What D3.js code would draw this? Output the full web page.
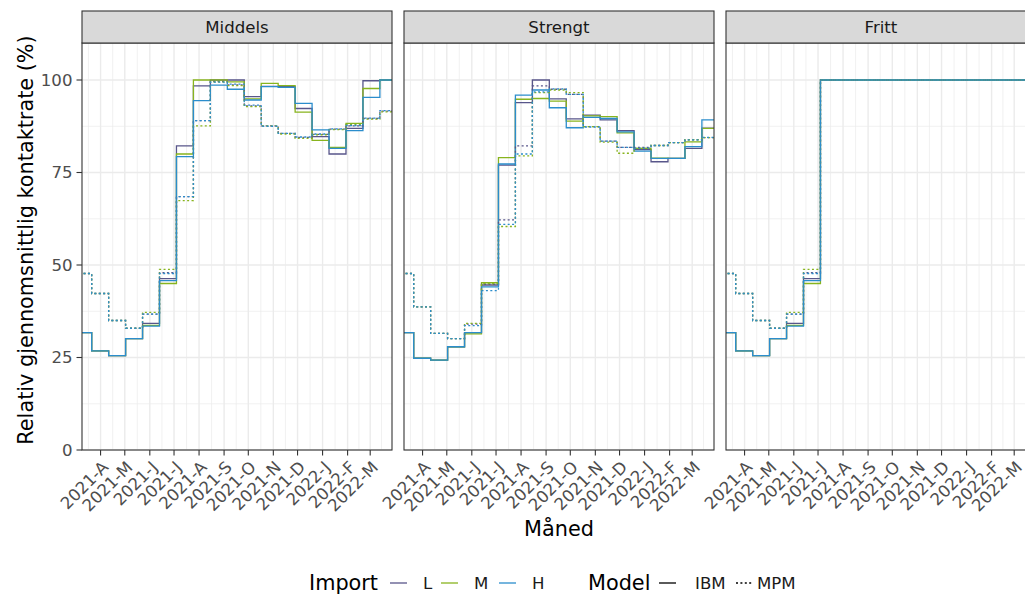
<!DOCTYPE html>
<html>
<head>
<meta charset="utf-8">
<script src="https://cdn.jsdelivr.net/npm/d3@7"></script>
<style>
  body { margin: 0; background: #fff; }
  text { font-family: "DejaVu Sans", sans-serif; }
</style>
</head>
<body>
<div class="chart"></div>
<script>
// facetter, grupper
const panels = ["Middels", "Strengt", "Fritt"]
const imports = ["L", "M", "H"]
const models = ["IBM", "MPM"]

// start of each 3-week period (last date = end of last period)
const periodStart = [
  "2021-02-28", "2021-03-21", "2021-04-11", "2021-05-02", "2021-05-23",
  "2021-06-13", "2021-07-04", "2021-07-25", "2021-08-15", "2021-09-05",
  "2021-09-26", "2021-10-17", "2021-11-07", "2021-11-28", "2021-12-19",
  "2022-01-09", "2022-01-30", "2022-02-20", "2022-03-13", "2022-04-03",
]

// month ticks
const tickDates = [
  "2021-04-01", "2021-05-01", "2021-06-01", "2021-07-01", "2021-08-01",
  "2021-09-01", "2021-10-01", "2021-11-01", "2021-12-01", "2022-01-01",
  "2022-02-01", "2022-03-01",
]
const tickLabels = [
  "2021-A", "2021-M", "2021-J", "2021-J", "2021-A", "2021-S",
  "2021-O", "2021-N", "2021-D", "2022-J", "2022-F", "2022-M",
]
const yTicks = [0, 25, 50, 75, 100]

// Middels
const middelsIbmL = [31.7, 26.8, 25.5, 30.1, 34.2, 46.3, 82.2, 98.4, 100, 100, 95.5, 98.3, 98.2, 92.3, 84.7, 80.0, 86.9, 99.8, 100]
const middelsIbmM = [31.7, 26.8, 25.5, 30.1, 33.7, 45.0, 80.0, 100, 100, 99.5, 94.9, 99.1, 98.5, 91.3, 83.7, 81.8, 88.3, 97.7, 100]
const middelsIbmH = [31.7, 26.8, 25.5, 30.1, 33.5, 45.8, 79.3, 94.4, 98.6, 97.5, 94.6, 98.2, 98.0, 93.7, 86.5, 81.5, 86.3, 95.3, 100]
const middelsMpmL = [47.7, 42.3, 35.0, 32.9, 36.7, 47.9, 68.5, 89.0, 99.6, 98.7, 93.0, 87.6, 85.6, 84.5, 85.3, 86.7, 87.6, 89.6, 91.6]
const middelsMpmM = [47.7, 42.3, 35.0, 32.9, 37.2, 48.8, 67.4, 87.6, 99.5, 98.5, 92.8, 87.6, 85.4, 84.2, 85.2, 86.6, 87.9, 89.4, 91.4]
const middelsMpmH = [47.7, 42.3, 35.0, 32.9, 36.7, 47.7, 68.5, 89.0, 99.4, 98.9, 93.2, 87.5, 85.6, 84.6, 85.4, 86.8, 87.7, 89.7, 91.7]

// Strengt
const strengtIbmL = [31.7, 24.8, 24.3, 27.9, 31.7, 44.6, 77.0, 93.9, 100, 94.9, 89.5, 90.5, 89.2, 86.3, 81.2, 77.9, 78.8, 81.5, 87.0]
const strengtIbmM = [31.7, 24.8, 24.3, 27.9, 31.4, 45.2, 79.0, 94.8, 95.0, 94.3, 88.9, 90.3, 90.1, 85.7, 81.5, 78.9, 78.8, 83.3, 86.9]
const strengtIbmH = [31.7, 24.8, 24.3, 27.9, 31.7, 44.1, 77.3, 95.9, 97.3, 92.5, 87.1, 89.9, 89.6, 86.0, 80.8, 78.8, 78.8, 82.0, 89.2]
const strengtMpmL = [47.7, 38.7, 31.5, 30.1, 34.0, 44.8, 62.2, 82.2, 98.4, 97.5, 96.1, 87.4, 83.5, 81.8, 81.8, 82.3, 83.1, 83.8, 84.4]
const strengtMpmM = [47.7, 38.7, 31.5, 30.1, 34.2, 45.0, 60.4, 79.5, 96.6, 97.3, 96.6, 87.4, 83.2, 80.2, 81.5, 82.3, 83.1, 83.9, 84.4]
const strengtMpmH = [47.7, 38.7, 31.5, 30.1, 33.6, 43.1, 61.0, 80.0, 96.8, 97.6, 96.1, 87.3, 83.5, 81.8, 81.6, 82.3, 83.1, 83.8, 84.5]

// Fritt
const frittIbmL = [31.7, 26.8, 25.5, 30.1, 34.2, 46.3, 100, 100, 100, 100, 100, 100, 100, 100, 100, 100, 100, 100, 100]
const frittIbmM = [31.7, 26.8, 25.5, 30.1, 33.7, 45.0, 100, 100, 100, 100, 100, 100, 100, 100, 100, 100, 100, 100, 100]
const frittIbmH = [31.7, 26.8, 25.5, 30.1, 33.5, 45.8, 100, 100, 100, 100, 100, 100, 100, 100, 100, 100, 100, 100, 100]
const frittMpmL = [47.7, 42.3, 35.0, 32.9, 36.7, 47.9, 100, 100, 100, 100, 100, 100, 100, 100, 100, 100, 100, 100, 100]
const frittMpmM = [47.7, 42.3, 35.0, 32.9, 37.2, 48.8, 100, 100, 100, 100, 100, 100, 100, 100, 100, 100, 100, 100, 100]
const frittMpmH = [47.7, 42.3, 35.0, 32.9, 36.7, 47.7, 100, 100, 100, 100, 100, 100, 100, 100, 100, 100, 100, 100, 100]

const series = {
  Middels: { IBM: { L: middelsIbmL, M: middelsIbmM, H: middelsIbmH }, MPM: { L: middelsMpmL, M: middelsMpmM, H: middelsMpmH } },
  Strengt: { IBM: { L: strengtIbmL, M: strengtIbmM, H: strengtIbmH }, MPM: { L: strengtMpmL, M: strengtMpmM, H: strengtMpmH } },
  Fritt: { IBM: { L: frittIbmL, M: frittIbmM, H: frittIbmH }, MPM: { L: frittMpmL, M: frittMpmM, H: frittMpmH } },
}

const config = {
  width: 1025,
  height: 597,
  panelLeft: [82, 404, 726],
  panelWidth: 310,
  panelTop: 43,
  panelBottom: 450,
  stripTop: 11,
  colors: { L: "#58568a", M: "#88b41e", H: "#2b8dcc" },
  dash: { IBM: null, MPM: "2,2.4" },
}

const parse = d3.timeParse("%Y-%m-%d")

const svg = d3.select(".chart").append("svg")
  .attr("width", config.width)
  .attr("height", config.height)

// x: tid, y: prosent
const scaleX = d3.scaleTime()
  .domain([parse("2021-03-09"), parse("2022-03-28")])
  .range([0, config.panelWidth])

const scaleY = d3.scaleLinear()
  .domain([0, 110])
  .range([config.panelBottom, config.panelTop])

// minor grid: midpoints between month ticks, plus one on each side
const tickD = tickDates.map(parse)
const minorX = []
minorX.push(new Date(+tickD[0] - (tickD[1] - tickD[0]) / 2))
for (let i = 0; i < tickD.length - 1; i++) minorX.push(new Date((+tickD[i] + +tickD[i + 1]) / 2))
minorX.push(new Date(+tickD[tickD.length - 1] + (tickD[tickD.length - 1] - tickD[tickD.length - 2]) / 2))
const minorY = [12.5, 37.5, 62.5, 87.5]

const line = d3.line()
  .x((d) => scaleX(d[0]))
  .y((d) => scaleY(d[1]))
  .curve(d3.curveStepAfter)

const ph = config.panelBottom - config.panelTop

panels.forEach((name, p) => {
  const g = svg.append("g").attr("transform", `translate(${config.panelLeft[p]},0)`)

  g.append("clipPath").attr("id", `clip${p}`)
    .append("rect")
    .attr("x", 0).attr("y", config.panelTop)
    .attr("width", config.panelWidth).attr("height", ph)

  // grid
  const grid = g.append("g")
  grid.selectAll(".minx").data(minorX).join("line")
    .attr("x1", (d) => scaleX(d)).attr("x2", (d) => scaleX(d))
    .attr("y1", config.panelTop).attr("y2", config.panelBottom)
    .attr("stroke", "#ebebeb").attr("stroke-width", 0.7)
  grid.selectAll(".miny").data(minorY).join("line")
    .attr("x1", 0).attr("x2", config.panelWidth)
    .attr("y1", (d) => scaleY(d)).attr("y2", (d) => scaleY(d))
    .attr("stroke", "#ebebeb").attr("stroke-width", 0.7)
  grid.selectAll(".majx").data(tickD).join("line")
    .attr("x1", (d) => scaleX(d)).attr("x2", (d) => scaleX(d))
    .attr("y1", config.panelTop).attr("y2", config.panelBottom)
    .attr("stroke", "#ebebeb").attr("stroke-width", 1.4)
  grid.selectAll(".majy").data(yTicks).join("line")
    .attr("x1", 0).attr("x2", config.panelWidth)
    .attr("y1", (d) => scaleY(d)).attr("y2", (d) => scaleY(d))
    .attr("stroke", "#ebebeb").attr("stroke-width", 1.4)

  // lines
  const lines = g.append("g").attr("clip-path", `url(#clip${p})`)
  models.forEach((m) => {
    imports.forEach((imp) => {
      const vals = series[name][m][imp]
      const pts = periodStart.map((d, i) => [parse(d), vals[Math.min(i, vals.length - 1)]])
      lines.append("path")
        .attr("d", line(pts))
        .attr("fill", "none")
        .attr("stroke", config.colors[imp])
        .attr("stroke-width", 1.3)
        .attr("stroke-dasharray", config.dash[m])
    })
  })

  // panel border
  g.append("rect")
    .attr("x", 0).attr("y", config.panelTop)
    .attr("width", config.panelWidth).attr("height", ph)
    .attr("fill", "none").attr("stroke", "#333333").attr("stroke-width", 1.1)

  // strip
  g.append("rect")
    .attr("x", 0).attr("y", config.stripTop)
    .attr("width", config.panelWidth).attr("height", config.panelTop - config.stripTop)
    .attr("fill", "#d9d9d9").attr("stroke", "#333333").attr("stroke-width", 1.1)
  g.append("text")
    .attr("x", config.panelWidth / 2)
    .attr("y", (config.stripTop + config.panelTop) / 2)
    .attr("dy", "0.36em")
    .attr("text-anchor", "middle")
    .attr("font-size", 16.6)
    .attr("fill", "#1a1a1a")
    .text(name)

  // x axis
  const xa = g.append("g")
  xa.selectAll("line").data(tickD).join("line")
    .attr("x1", (d) => scaleX(d)).attr("x2", (d) => scaleX(d))
    .attr("y1", config.panelBottom).attr("y2", config.panelBottom + 5.5)
    .attr("stroke", "#333333").attr("stroke-width", 1.1)
  xa.selectAll("text").data(tickD).join("text")
    .attr("transform", (d) => `translate(${scaleX(d)},${config.panelBottom + 9.5}) rotate(-45)`)
    .attr("dy", "0.75em")
    .attr("text-anchor", "end")
    .attr("font-size", 16.6)
    .attr("fill", "#4d4d4d")
    .text((d, i) => tickLabels[i])

  // y axis only on first panel
  if (p === 0) {
    const ya = g.append("g")
    ya.selectAll("line").data(yTicks).join("line")
      .attr("x1", -5.5).attr("x2", 0)
      .attr("y1", (d) => scaleY(d)).attr("y2", (d) => scaleY(d))
      .attr("stroke", "#333333").attr("stroke-width", 1.1)
    ya.selectAll("text").data(yTicks).join("text")
      .attr("x", -9.5)
      .attr("y", (d) => scaleY(d))
      .attr("dy", "0.36em")
      .attr("text-anchor", "end")
      .attr("font-size", 16.6)
      .attr("fill", "#4d4d4d")
      .text((d) => d)
  }
})

// axis titles
svg.append("text")
  .attr("x", 559).attr("y", 536)
  .attr("text-anchor", "middle")
  .attr("font-size", 20.8)
  .text("Måned")

svg.append("text")
  .attr("transform", "translate(33,240) rotate(-90)")
  .attr("text-anchor", "middle")
  .attr("font-size", 20.8)
  .text("Relativ gjennomsnittlig kontaktrate (%)")

// legend
const legend = svg.append("g")
const legY = 583
legend.append("text").attr("x", 309).attr("y", legY + 7).attr("font-size", 20.8).text("Import")
const importKeyX = [390, 441, 499]
const importTextX = [423, 474, 532]
imports.forEach((imp, i) => {
  legend.append("line")
    .attr("x1", importKeyX[i]).attr("x2", importKeyX[i] + 17)
    .attr("y1", legY).attr("y2", legY)
    .attr("stroke", config.colors[imp]).attr("stroke-width", 1.3)
  legend.append("text")
    .attr("x", importTextX[i]).attr("y", legY).attr("dy", "0.36em")
    .attr("font-size", 16.6).attr("fill", "#1a1a1a")
    .text(imp)
})
legend.append("text").attr("x", 588).attr("y", legY + 7).attr("font-size", 20.8).text("Model")
const modelKeyX = [659, 736]
const modelTextX = [695, 757]
models.forEach((m, i) => {
  legend.append("line")
    .attr("x1", modelKeyX[i]).attr("x2", modelKeyX[i] + 17)
    .attr("y1", legY).attr("y2", legY)
    .attr("stroke", "#000").attr("stroke-width", 1.3)
    .attr("stroke-dasharray", config.dash[m])
  legend.append("text")
    .attr("x", modelTextX[i]).attr("y", legY).attr("dy", "0.36em")
    .attr("font-size", 16.6).attr("fill", "#1a1a1a")
    .text(m)
})
</script>
</body>
</html>
